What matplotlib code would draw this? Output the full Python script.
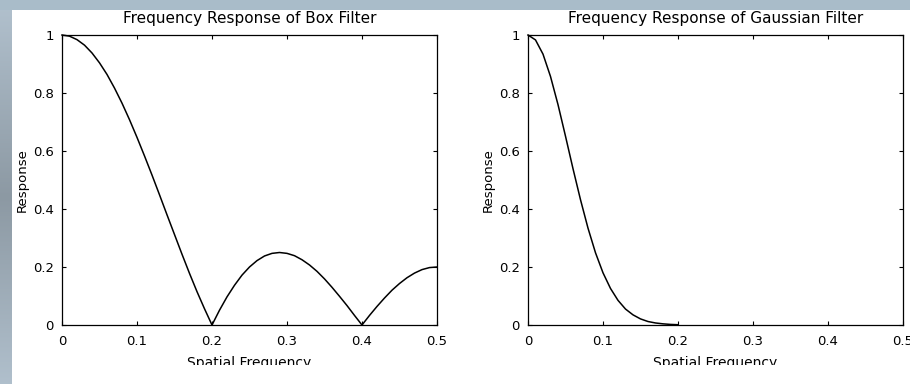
import numpy as np
import matplotlib
matplotlib.use('Agg')
import matplotlib.pyplot as plt
from matplotlib.transforms import Bbox

plt.rcParams['font.family'] = ['DejaVu Sans']

# spatial frequency samples (step 0.01)
freq_box = [0.00, 0.01, 0.02, 0.03, 0.04, 0.05, 0.06, 0.07, 0.08, 0.09,
            0.10, 0.11, 0.12, 0.13, 0.14, 0.15, 0.16, 0.17, 0.18, 0.19,
            0.20, 0.21, 0.22, 0.23, 0.24, 0.25, 0.26, 0.27, 0.28, 0.29,
            0.30, 0.31, 0.32, 0.33, 0.34, 0.35, 0.36, 0.37, 0.38, 0.39,
            0.40, 0.41, 0.42, 0.43, 0.44, 0.45, 0.46, 0.47, 0.48, 0.49, 0.50]
resp_box = [1.000, 0.996, 0.984, 0.965, 0.938, 0.904, 0.864, 0.817, 0.765, 0.708,
            0.647, 0.583, 0.517, 0.449, 0.380, 0.312, 0.244, 0.178, 0.115, 0.056,
            0.000, 0.051, 0.097, 0.137, 0.172, 0.200, 0.222, 0.238, 0.247, 0.250,
            0.247, 0.239, 0.225, 0.207, 0.185, 0.159, 0.130, 0.099, 0.067, 0.033,
            0.000, 0.033, 0.064, 0.093, 0.120, 0.143, 0.163, 0.179, 0.191, 0.198, 0.200]

freq_gauss = [0.00, 0.01, 0.02, 0.03, 0.04, 0.05, 0.06, 0.07, 0.08, 0.09, 0.10,
              0.11, 0.12, 0.13, 0.14, 0.15, 0.16, 0.17, 0.18, 0.19, 0.20]
resp_gauss = [1.000, 0.983, 0.934, 0.857, 0.760, 0.651, 0.539, 0.432, 0.334, 0.249, 0.180,
              0.126, 0.085, 0.055, 0.035, 0.021, 0.012, 0.007, 0.004, 0.002, 0.001]

titles = ['Frequency Response of Box Filter', 'Frequency Response of Gaussian Filter']
xticks = [0, 0.1, 0.2, 0.3, 0.4, 0.5]
xticklabels = ['0', '0.1', '0.2', '0.3', '0.4', '0.5']
yticks = [0, 0.2, 0.4, 0.6, 0.8, 1.0]
yticklabels = ['0', '0.2', '0.4', '0.6', '0.8', '1']

W, H = 910, 384
fig = plt.figure(figsize=(W / 100, H / 100), dpi=100)
fig.patch.set_facecolor('white')

# slide background: top band and shaded left strip
fig.patches.append(plt.Rectangle((0, 1 - 10 / H), 1, 10 / H, transform=fig.transFigure,
                                 facecolor='#a9bcc9', edgecolor='none', zorder=0))
bg = fig.add_axes([0, 0, 12 / W, 1 - 10 / H])
t = np.abs(np.linspace(-1, 1, 200))[:, None]
top_col = np.array([0.69, 0.75, 0.80])
mid_col = np.array([0.55, 0.60, 0.64])
grad = (t * top_col + (1 - t) * mid_col)[:, None, :]
bg.imshow(grad, aspect='auto', extent=[0, 1, 0, 1])
bg.axis('off')

positions = [[62 / W, 1 - 325 / H, 375 / W, 290 / H],
             [528 / W, 1 - 325 / H, 375 / W, 290 / H]]
series = [(freq_box, resp_box), (freq_gauss, resp_gauss)]

for i in range(2):
    ax = fig.add_axes(positions[i])
    ax.plot(series[i][0], series[i][1], color='black', lw=1.1, clip_on=False)
    ax.set_xlim(0, 0.5)
    ax.set_ylim(0, 1)
    ax.set_xticks(xticks)
    ax.set_xticklabels(xticklabels)
    ax.set_yticks(yticks)
    ax.set_yticklabels(yticklabels)
    ax.tick_params(axis='x', direction='in', length=3, width=0.8, top=True,
                   labelsize=9.5, pad=7)
    ax.tick_params(axis='y', direction='in', length=3, width=0.8, right=True,
                   labelsize=9.5, pad=6)
    for sp in ax.spines.values():
        sp.set_linewidth(0.9)
    ax.set_title(titles[i], fontsize=11, pad=9)
    ax.set_ylabel('Response', fontsize=9.5, labelpad=3)
    xl = ax.set_xlabel('Spatial Frequency', fontsize=10, labelpad=6)
    # original screenshot cuts the x label in half
    xl.set_clip_box(Bbox([[0, 19], [W, H]]))
    xl.set_clip_on(True)

fig.savefig('out.png', dpi=100)
